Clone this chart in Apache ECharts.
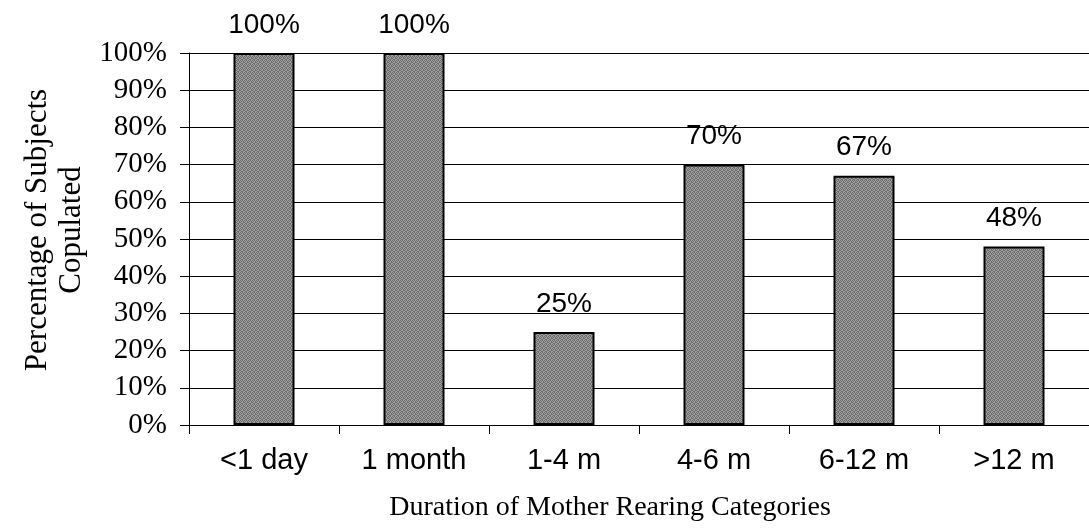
<!DOCTYPE html>
<html>
<head>
<meta charset="utf-8">
<style>
  html, body { margin: 0; padding: 0; background: #fff; }
  #chart { width: 1089px; height: 532px; }
</style>
<script src="https://cdn.jsdelivr.net/npm/echarts@6/dist/echarts.min.js"></script>
</head>
<body>
<div id="chart"></div>
<script>
// Rearing-duration categories and the share of subjects that copulated (%)
const categories = ['<1 day', '1 month', '1-4 m', '4-6 m', '6-12 m', '>12 m'];
const copulatedPct = [100, 100, 25, 70, 67, 48];
const yTicks = [0, 10, 20, 30, 40, 50, 60, 70, 80, 90, 100];

// Fine dithered gray fill for the bars
function makePattern() {
  const c = document.createElement('canvas');
  c.width = 4; c.height = 4;
  const ctx = c.getContext('2d');
  ctx.fillStyle = '#a2a2a2';
  ctx.fillRect(0, 0, 4, 4);
  ctx.fillStyle = '#6a6a6a';
  const dots = [[0, 0], [2, 0], [1, 1], [3, 1], [0, 2], [3, 2], [1, 3], [2, 3]];
  dots.forEach(function (d) { ctx.fillRect(d[0], d[1], 1, 1); });
  return c;
}

const chart = echarts.init(document.getElementById('chart'), null, { renderer: 'canvas' });
const serif = '"Liberation Serif", "Times New Roman", serif';
const sans = '"Liberation Sans", Arial, sans-serif';

chart.setOption({
  animation: false,
  backgroundColor: '#ffffff',
  grid: { left: 189, top: 53, width: 906, height: 372, containLabel: false },
  xAxis: {
    type: 'category',
    data: categories,
    boundaryGap: true,
    axisLine: { show: true, lineStyle: { color: '#000', width: 1 } },
    axisTick: { show: true, alignWithLabel: false, length: 9, inside: false, lineStyle: { color: '#000' } },
    axisLabel: { color: '#000', fontFamily: sans, fontSize: 29, margin: 21 },
    name: 'Duration of Mother Rearing Categories',
    nameLocation: 'middle',
    nameGap: 69,
    nameTextStyle: { color: '#000', fontFamily: serif, fontSize: 28, padding: [0, 58, 0, 0] }
  },
  yAxis: {
    type: 'value',
    min: yTicks[0],
    max: yTicks[yTicks.length - 1],
    interval: 10,
    axisLine: { show: true, lineStyle: { color: '#000', width: 1 } },
    axisTick: { show: true, length: 9, lineStyle: { color: '#000' } },
    splitLine: { show: true, lineStyle: { color: '#000', width: 1 } },
    axisLabel: { color: '#000', fontFamily: serif, fontSize: 29, margin: 22, formatter: '{value}%' },
    name: 'Percentage of Subjects\nCopulated',
    nameLocation: 'middle',
    nameRotate: 90,
    nameGap: 100,
    nameTextStyle: { color: '#000', fontFamily: serif, fontSize: 31, lineHeight: 34, align: 'center', padding: [0, 0, 0, 18] }
  },
  series: [{
    type: 'bar',
    data: copulatedPct,
    barWidth: 61,
    itemStyle: {
      color: { image: makePattern(), repeat: 'repeat' },
      borderColor: '#000',
      borderWidth: 2
    },
    label: {
      show: true,
      position: 'top',
      distance: 14,
      formatter: '{c}%',
      color: '#000',
      fontFamily: sans,
      fontSize: 28
    }
  }]
});
</script>
</body>
</html>
